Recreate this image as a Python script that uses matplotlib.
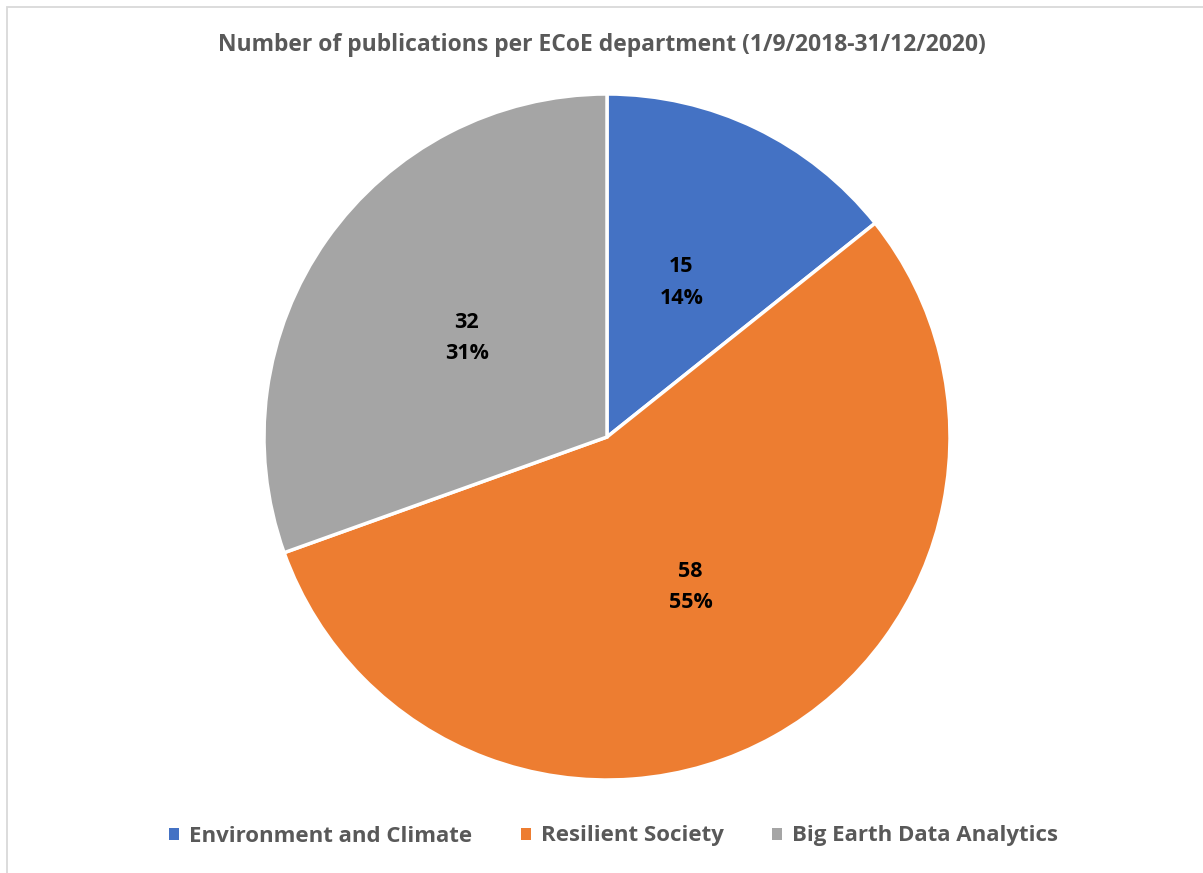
import matplotlib
matplotlib.use("Agg")
import matplotlib.pyplot as plt
from matplotlib.patches import Rectangle, Patch

departments = ["Environment and Climate", "Resilient Society", "Big Earth Data Analytics"]
publications = [15, 58, 32]
percent_labels = [14, 55, 31]
colors = ["#4472C4", "#ED7D31", "#A5A5A5"]
title = "Number of publications per ECoE department (1/9/2018-31/12/2020)"

W, H = 1203, 873
fig = plt.figure(figsize=(W / 100, H / 100), dpi=100)
plt.rcParams["font.family"] = ["Open Sans", "DejaVu Sans"]

# light frame around the chart area
fig.patches.append(Rectangle((6.5 / W, -0.01), 1.1, 1 - 6.5 / H + 0.01,
                             transform=fig.transFigure, fill=False,
                             edgecolor="#D9D9D9", linewidth=1.3))

cx, cy, r = 607, 437, 343
ax = fig.add_axes([(cx - r) / W, (H - cy - r) / H, 2 * r / W, 2 * r / H])

labels = [f"{v}\n{p}%" for v, p in zip(publications, percent_labels)]
wedges, texts = ax.pie(
    publications, colors=colors, startangle=90, counterclock=False,
    labels=labels, labeldistance=0.5, radius=1,
    wedgeprops=dict(edgecolor="white", linewidth=2.5),
    textprops=dict(fontsize=15.5, fontweight="bold", color="black",
                   linespacing=1.65, ha="center", va="center"))
for t in texts:
    t.set_horizontalalignment("center")
ax.set_xlim(-1, 1)
ax.set_ylim(-1, 1)

fig.text(0.5, 1 - 45 / H, title, ha="center", va="center",
         fontsize=16.5, fontweight="bold", color="#595959")

handles = [Patch(facecolor=c, edgecolor="none") for c in colors]
leg = fig.legend(handles, departments, loc="center", ncol=3,
                 bbox_to_anchor=(0.5 + 12 / W, 1 - 836 / H), frameon=False,
                 prop=dict(size=16, weight="bold"),
                 handlelength=0.45, handleheight=0.45, handletextpad=0.45,
                 columnspacing=2.2)
for t in leg.get_texts():
    t.set_color("#595959")

fig.savefig("out.png", dpi=100, facecolor="white")
